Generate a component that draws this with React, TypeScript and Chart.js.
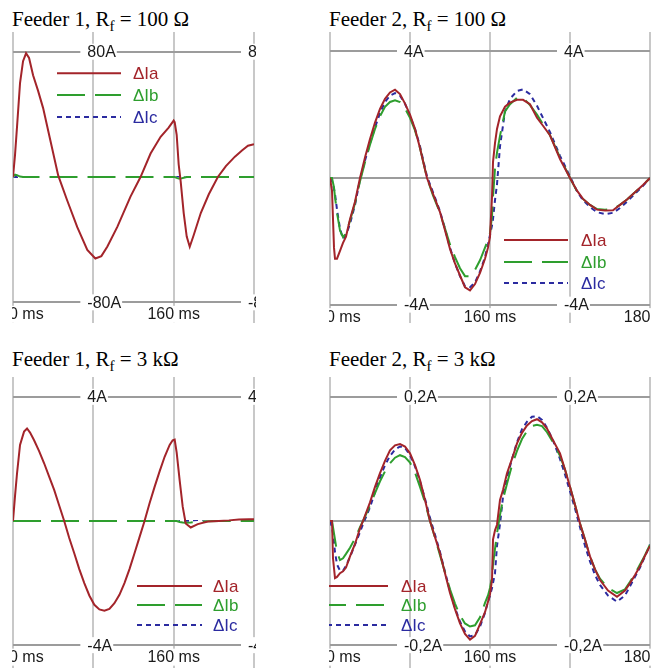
import React, { useEffect, useRef } from "react";
import { Chart, registerables } from "chart.js";

Chart.register(...registerables);

// ---------- data ----------
const SERIES_NAMES = ["ΔIa", "ΔIb", "ΔIc"];

// Feeder 1, Rf = 100 Ω  (time in ms, current in A)
const F1_100_T = [0, 2, 4, 7, 10, 13, 16, 20, 25, 30, 37, 45, 54, 64, 74, 82, 88, 94, 104, 117, 127, 137, 147, 155, 160, 161, 163, 165, 167, 170, 173, 176, 180, 187, 195, 204, 212, 221, 228, 234, 240];
const F1_100_IA = [0, 14, 32, 60, 74, 79, 76, 65, 55, 44, 24, 1, -15, -32, -46.5, -52, -50.5, -44.4, -31.7, -12.5, 0, 15, 25.7, 31.5, 36, 35, 27, 8, -3, -23, -38, -44.5, -37, -23, -11, 0, 7, 13, 17, 20, 21];
const F1_100_IB = [0, 1.5, 1.2, 0.3, 0, 0, 0, 0, 0, 0, 0, 0, 0, 0, 0, 0, 0, 0, 0, 0, 0, 0, 0, 0, 0, 0, -0.5, -1, -1, -0.5, 0, 0, 0, 0, 0, 0, 0, 0, 0, 0, 0];
const F1_100_IC = [0, 0, 0, 0, 0, 0, 0, 0, 0, 0, 0, 0, 0, 0, 0, 0, 0, 0, 0, 0, 0, 0, 0, 0, 0, 0, 0, 0, 0, 0, 0, 0, 0, 0, 0, 0, 0, 0, 0, 0, 0];

// Feeder 2, Rf = 100 Ω
const F2_100_T = [0, 2, 4, 5, 7, 10, 13, 16, 20, 25, 30, 35, 40, 45, 50, 55, 60, 65, 70, 75, 80, 85, 90, 97, 103, 110, 115, 120, 125, 130, 135, 140, 145, 150, 155, 158, 160, 162, 163, 165, 167, 170, 175, 180, 187, 193, 200, 207, 213, 220, 230, 240, 247, 253, 260, 267, 275, 283, 290, 297, 305, 313, 320];
const F2_100_IA = [0, -0.4, -2.2, -2.55, -2.55, -2.3, -2.05, -1.85, -1.3, -0.75, 0, 0.65, 1.23, 1.75, 2.18, 2.5, 2.7, 2.79, 2.65, 2.35, 2.0, 1.55, 0.95, 0, -0.5, -1.08, -1.65, -2.24, -2.7, -3.08, -3.45, -3.55, -3.35, -3.0, -2.55, -2.2, -1.85, -0.6, 0.5, 1.1, 1.55, 1.95, 2.25, 2.38, 2.47, 2.47, 2.33, 1.9, 1.65, 1.35, 0.6, 0, -0.4, -0.66, -0.85, -1.0, -1.03, -1.02, -0.85, -0.68, -0.45, -0.22, 0];
const F2_100_IB = [0, 0, -0.3, -0.6, -1.1, -1.66, -1.87, -1.75, -1.35, -0.8, -0.1, 0.5, 1.05, 1.55, 1.95, 2.25, 2.4, 2.45, 2.4, 2.2, 1.9, 1.5, 0.95, 0, -0.55, -1.1, -1.6, -2.1, -2.5, -2.85, -3.1, -3.1, -2.9, -2.6, -2.2, -1.95, -1.75, -1.2, -0.6, 0.3, 0.8, 1.33, 2.1, 2.33, 2.53, 2.53, 2.3, 2.0, 1.7, 1.35, 0.65, 0, -0.42, -0.66, -0.85, -0.98, -1.0, -0.98, -0.85, -0.68, -0.45, -0.22, 0];
const F2_100_IC = [0, -0.1, -0.35, -0.5, -1.0, -1.6, -1.92, -1.8, -1.45, -0.85, -0.05, 0.55, 1.1, 1.6, 2.05, 2.4, 2.6, 2.68, 2.6, 2.35, 1.95, 1.55, 1.0, 0.05, -0.45, -1.05, -1.6, -2.2, -2.7, -3.1, -3.42, -3.45, -3.3, -2.95, -2.5, -2.1, -1.8, -1.5, -1.3, -0.7, -0.2, 1.0, 2.1, 2.5, 2.75, 2.8, 2.65, 2.28, 1.9, 1.45, 0.7, 0.05, -0.42, -0.7, -0.92, -1.08, -1.14, -1.1, -0.95, -0.75, -0.5, -0.25, 0];

// Feeder 1, Rf = 3 kΩ
const F1_3K_T = [0, 2, 4, 7, 11, 14, 17, 21, 26, 31, 36, 41, 46, 51, 56, 61, 66, 71, 76, 81, 86, 91, 96, 101, 106, 111, 116, 121, 126, 131, 136, 141, 146, 151, 156, 159, 161, 163, 166, 169, 172, 177, 184, 194, 205, 215, 225, 235, 240];
const F1_3K_IA = [0, 0.8, 1.53, 2.45, 2.88, 2.98, 2.85, 2.6, 2.25, 1.86, 1.43, 1.0, 0.5, 0, -0.55, -1.04, -1.55, -2.0, -2.4, -2.7, -2.85, -2.89, -2.83, -2.65, -2.38, -2.0, -1.55, -1.04, -0.52, 0, 0.57, 1.1, 1.6, 2.07, 2.45, 2.6, 2.62, 2.2, 1.3, 0.46, -0.08, -0.21, -0.1, -0.02, 0, 0.02, 0.05, 0.06, 0.06];
const F1_3K_IB = [0, 0, 0, 0, 0, 0, 0, 0, 0, 0, 0, 0, 0, 0, 0, 0, 0, 0, 0, 0, 0, 0, 0, 0, 0, 0, 0, 0, 0, 0, 0, 0, 0, 0, 0, 0, 0, 0, -0.03, -0.05, -0.06, -0.05, -0.03, -0.01, 0, 0, 0, 0, 0];
const F1_3K_IC = [0, 0, 0, 0, 0, 0, 0, 0, 0, 0, 0, 0, 0, 0, 0, 0, 0, 0, 0, 0, 0, 0, 0, 0, 0, 0, 0, 0, 0, 0, 0, 0, 0, 0, 0, 0, 0, 0, 0, 0, 0, 0, 0, 0, 0, 0, 0, 0, 0];

// Feeder 2, Rf = 3 kΩ
const F2_3K_T = [0, 2, 3, 5, 7, 10, 13, 16, 20, 25, 30, 33, 40, 45, 50, 55, 60, 65, 70, 75, 80, 85, 90, 95, 100, 105, 110, 115, 120, 125, 130, 135, 140, 145, 150, 155, 158, 160, 162, 163, 165, 167, 170, 173, 177, 182, 187, 192, 197, 202, 207, 212, 217, 223, 230, 235, 240, 245, 250, 255, 260, 265, 270, 278, 287, 295, 300, 305, 310, 315, 320];
const F2_3K_IA = [0, 0, -0.06, -0.092, -0.09, -0.084, -0.081, -0.075, -0.057, -0.037, -0.012, 0, 0.03, 0.055, 0.077, 0.097, 0.114, 0.122, 0.124, 0.12, 0.109, 0.09, 0.066, 0.034, 0, -0.026, -0.052, -0.084, -0.116, -0.142, -0.165, -0.182, -0.191, -0.185, -0.166, -0.147, -0.13, -0.118, -0.095, -0.03, -0.015, -0.006, 0.034, 0.05, 0.077, 0.1, 0.125, 0.142, 0.154, 0.161, 0.164, 0.159, 0.149, 0.13, 0.109, 0.083, 0.055, 0.026, -0.004, -0.03, -0.057, -0.078, -0.095, -0.112, -0.122, -0.112, -0.1, -0.087, -0.073, -0.056, -0.04];
const F2_3K_IB = [0, 0, -0.01, -0.03, -0.05, -0.063, -0.06, -0.053, -0.043, -0.028, -0.01, 0, 0.025, 0.045, 0.064, 0.08, 0.093, 0.102, 0.106, 0.103, 0.094, 0.078, 0.055, 0.03, 0, -0.027, -0.055, -0.083, -0.11, -0.133, -0.152, -0.165, -0.17, -0.168, -0.155, -0.132, -0.12, -0.108, -0.09, -0.07, -0.045, -0.02, 0.01, 0.035, 0.06, 0.09, 0.113, 0.132, 0.145, 0.153, 0.155, 0.153, 0.143, 0.127, 0.105, 0.083, 0.055, 0.026, -0.004, -0.03, -0.057, -0.078, -0.093, -0.108, -0.116, -0.11, -0.098, -0.085, -0.07, -0.055, -0.038];
const F2_3K_IC = [0, -0.01, -0.02, -0.05, -0.07, -0.08, -0.08, -0.072, -0.058, -0.038, -0.018, -0.005, 0.022, 0.047, 0.07, 0.09, 0.105, 0.115, 0.12, 0.118, 0.106, 0.088, 0.064, 0.036, 0.005, -0.022, -0.05, -0.082, -0.113, -0.14, -0.162, -0.178, -0.186, -0.184, -0.17, -0.148, -0.13, -0.12, -0.108, -0.1, -0.084, -0.04, -0.005, 0.039, 0.07, 0.1, 0.127, 0.148, 0.16, 0.168, 0.169, 0.163, 0.15, 0.13, 0.1, 0.075, 0.048, 0.02, -0.01, -0.04, -0.065, -0.087, -0.103, -0.12, -0.13, -0.12, -0.105, -0.09, -0.075, -0.057, -0.038];

// grid / tick definitions
const X_GRID_F1 = [0, 80, 160, 240];
const X_GRID_F2 = [0, 80, 160, 240, 320];
const VALUE_LABEL_X = [80, 240];
const TIME_TICKS_F1 = [0, 160];
const TIME_LABELS_F1 = ["0 ms", "160 ms"];
const TIME_TICKS_F2 = [0, 160, 320];
const TIME_LABELS_F2 = ["0 ms", "160 ms", "180 ms"];
const Y_GRID_100_F1 = [-80, 0, 80];
const Y_LABELS_100_F1 = ["-80A", "80A"];
const Y_GRID_4 = [-4, 0, 4];
const Y_LABELS_4 = ["-4A", "4A"];
const Y_GRID_02 = [-0.2, 0, 0.2];
const Y_LABELS_02 = ["-0,2A", "0,2A"];

const TITLE_HEAD = ["Feeder 1, R", "Feeder 2, R", "Feeder 1, R", "Feeder 2, R"];
const TITLE_TAIL = [" = 100 Ω", " = 100 Ω", " = 3 kΩ", " = 3 kΩ"];

// ---------- styles ----------
const COLORS = ["#a3242a", "#2e9e2e", "#2b2ba0"];
const DASHES: number[][] = [[], [28, 10], [5, 4]];
const LABEL_FONT = "16px 'Liberation Sans', Arial, sans-serif";
const LEGEND_FONT = "17px 'Liberation Sans', Arial, sans-serif";

type PanelCfg = {
  left: number; top: number; width: number; height: number;
  padL: number; padR: number; xMax: number; yMin: number; yMax: number;
  t: number[]; series: number[][];
  xGrid: number[]; yGrid: number[]; yLabels: string[];
  timeTicks: number[]; timeLabels: string[];
  legend: { x1: number; x2: number; tx: number; rows: number[] };
  whiteGaps: boolean;
  titleIdx: number; titleLeft: number; titleTop: number;
};

const PANELS: PanelCfg[] = [
  {
    left: 12, top: 32, width: 244, height: 291, padL: 1, padR: 2, xMax: 240, yMin: -93.2, yMax: 92.6,
    t: F1_100_T, series: [F1_100_IA, F1_100_IB, F1_100_IC],
    xGrid: X_GRID_F1, yGrid: Y_GRID_100_F1, yLabels: Y_LABELS_100_F1,
    timeTicks: TIME_TICKS_F1, timeLabels: TIME_LABELS_F1,
    legend: { x1: 57, x2: 121, tx: 133, rows: [73.3, 95, 117] },
    whiteGaps: true, titleIdx: 0, titleLeft: 12, titleTop: 9,
  },
  {
    left: 329, top: 32, width: 322, height: 291, padL: 1, padR: 1, xMax: 320, yMin: -4.58, yMax: 4.611,
    t: F2_100_T, series: [F2_100_IA, F2_100_IB, F2_100_IC],
    xGrid: X_GRID_F2, yGrid: Y_GRID_4, yLabels: Y_LABELS_4,
    timeTicks: TIME_TICKS_F2, timeLabels: TIME_LABELS_F2,
    legend: { x1: 504, x2: 568, tx: 581, rows: [240, 262, 283] },
    whiteGaps: false, titleIdx: 1, titleLeft: 329, titleTop: 9,
  },
  {
    left: 12, top: 377, width: 244, height: 291, padL: 1, padR: 2, xMax: 240, yMin: -4.736, yMax: 4.639,
    t: F1_3K_T, series: [F1_3K_IA, F1_3K_IB, F1_3K_IC],
    xGrid: X_GRID_F1, yGrid: Y_GRID_4, yLabels: Y_LABELS_4,
    timeTicks: TIME_TICKS_F1, timeLabels: TIME_LABELS_F1,
    legend: { x1: 137, x2: 202, tx: 213, rows: [586, 605, 625] },
    whiteGaps: true, titleIdx: 2, titleLeft: 12, titleTop: 349,
  },
  {
    left: 329, top: 377, width: 322, height: 291, padL: 1, padR: 1, xMax: 320, yMin: -0.2368, yMax: 0.232,
    t: F2_3K_T, series: [F2_3K_IA, F2_3K_IB, F2_3K_IC],
    xGrid: X_GRID_F2, yGrid: Y_GRID_02, yLabels: Y_LABELS_02,
    timeTicks: TIME_TICKS_F2, timeLabels: TIME_LABELS_F2,
    legend: { x1: 318, x2: 388, tx: 401, rows: [586, 605, 625] },
    whiteGaps: false, titleIdx: 3, titleLeft: 329, titleTop: 349,
  },
];

const scopePlugin = {
  id: "scope",
  beforeDatasetDraw(chart: any, args: any, opts: any) {
    if (!opts.whiteGaps) return;
    const ds = chart.data.datasets[args.index];
    if (!ds.borderDash || ds.borderDash.length === 0) return;
    const ctx = chart.ctx;
    const ca = chart.chartArea;
    ctx.save();
    ctx.beginPath();
    ctx.rect(ca.left, ca.top, ca.right - ca.left, ca.bottom - ca.top);
    ctx.clip();
    ctx.beginPath();
    args.meta.data.forEach((p: any, i: number) => {
      if (i === 0) ctx.moveTo(p.x, p.y);
      else ctx.lineTo(p.x, p.y);
    });
    ctx.strokeStyle = "#ffffff";
    ctx.lineWidth = ds.borderWidth;
    ctx.stroke();
    ctx.restore();
  },
  afterDraw(chart: any, _args: any, opts: any) {
    const ctx = chart.ctx;
    const xs = chart.scales.x;
    const ys = chart.scales.y;
    const cfg: PanelCfg = opts.cfg;
    ctx.save();
    ctx.font = LABEL_FONT;
    ctx.textBaseline = "middle";
    ctx.textAlign = "left";
    // value labels on top and bottom lines
    const yTop = cfg.yGrid[cfg.yGrid.length - 1];
    const yBot = cfg.yGrid[0];
    const drawValue = (xv: number, yv: number, text: string) => {
      const gx = xs.getPixelForValue(xv);
      const py = ys.getPixelForValue(yv);
      const tx = gx - 6;
      const w = ctx.measureText(text).width;
      ctx.fillStyle = "#ffffff";
      ctx.fillRect(tx - 7, py - 8, w + 8, 16);
      ctx.fillStyle = "#1a1a1a";
      ctx.fillText(text, tx, py + 1);
    };
    VALUE_LABEL_X.forEach((xv) => {
      drawValue(xv, yTop, cfg.yLabels[1]);
      drawValue(xv, yBot, cfg.yLabels[0]);
    });
    // time labels
    const tyBase = ys.getPixelForValue(yBot) + 11.5;
    cfg.timeTicks.forEach((tv, i) => {
      const text = cfg.timeLabels[i];
      const gx = xs.getPixelForValue(tv);
      const w = ctx.measureText(text).width;
      const tx = tv === 0 ? gx - 4 : gx - w / 2;
      ctx.fillStyle = "#ffffff";
      ctx.fillRect(tx - 1, tyBase - 8, w + 2, 17);
      ctx.fillStyle = "#1a1a1a";
      ctx.fillText(text, tx, tyBase + 1);
    });
    // legend
    const lg = cfg.legend;
    chart.data.datasets.forEach((ds: any, i: number) => {
      const y = lg.rows[i] - cfg.top;
      ctx.beginPath();
      ctx.setLineDash(ds.borderDash || []);
      ctx.strokeStyle = ds.borderColor;
      ctx.lineWidth = 2;
      ctx.moveTo(lg.x1 - cfg.left, y);
      ctx.lineTo(lg.x2 - cfg.left, y);
      ctx.stroke();
      ctx.setLineDash([]);
      ctx.font = LEGEND_FONT;
      ctx.fillStyle = ds.borderColor;
      ctx.fillText(ds.label, lg.tx - cfg.left, y + 1);
    });
    ctx.restore();
  },
};

function Panel({ cfg }: { cfg: PanelCfg }) {
  const ref = useRef<HTMLCanvasElement>(null);
  useEffect(() => {
    const canvas = ref.current!;
    const chart = new Chart(canvas, {
      type: "line",
      data: {
        datasets: cfg.series.map((vals, si) => ({
          label: SERIES_NAMES[si],
          data: cfg.t.map((x, i) => ({ x, y: vals[i] })),
          borderColor: COLORS[si],
          backgroundColor: COLORS[si],
          borderDash: DASHES[si],
          borderWidth: 2,
          pointRadius: 0,
          tension: 0,
          fill: false,
        })),
      },
      options: {
        responsive: false,
        animation: false,
        events: [],
        layout: { padding: { left: cfg.padL, right: cfg.padR, top: 0, bottom: 0 } },
        plugins: {
          legend: { display: false },
          tooltip: { enabled: false },
          scope: { cfg, whiteGaps: cfg.whiteGaps },
        } as any,
        scales: {
          x: {
            type: "linear",
            min: 0,
            max: cfg.xMax,
            afterBuildTicks: (s: any) => {
              s.ticks = cfg.xGrid.map((v) => ({ value: v }));
            },
            afterFit: (s: any) => {
              s.height = 0;
            },
            ticks: { display: false },
            grid: { color: "#c8c8c8", lineWidth: 2, drawTicks: false },
            border: { display: false },
          },
          y: {
            type: "linear",
            min: cfg.yMin,
            max: cfg.yMax,
            afterBuildTicks: (s: any) => {
              s.ticks = cfg.yGrid.map((v) => ({ value: v }));
            },
            afterFit: (s: any) => {
              s.width = 0;
            },
            ticks: { display: false },
            grid: { color: "#9c9c9c", lineWidth: 2, drawTicks: false },
            border: { display: false },
          },
        },
      },
      plugins: [scopePlugin as any],
    });
    return () => chart.destroy();
  }, [cfg]);
  return (
    <canvas
      ref={ref}
      width={cfg.width}
      height={cfg.height}
      style={{ position: "absolute", left: cfg.left, top: cfg.top, width: cfg.width, height: cfg.height }}
    />
  );
}

export default function App() {
  return (
    <div style={{ position: "absolute", left: 0, top: 0, width: 665, height: 668, background: "#ffffff", overflow: "hidden" }}>
      {PANELS.map((p, i) => (
        <React.Fragment key={i}>
          <div
            style={{
              position: "absolute",
              left: p.titleLeft,
              top: p.titleTop,
              fontFamily: "'Liberation Serif', 'Times New Roman', serif",
              fontSize: 21,
              lineHeight: "21px",
              whiteSpace: "nowrap",
              color: "#000",
            }}
          >
            {TITLE_HEAD[p.titleIdx]}
            <span style={{ fontSize: 15, position: "relative", top: 5 }}>f</span>
            {TITLE_TAIL[p.titleIdx]}
          </div>
          <Panel cfg={p} />
        </React.Fragment>
      ))}
    </div>
  );
}
